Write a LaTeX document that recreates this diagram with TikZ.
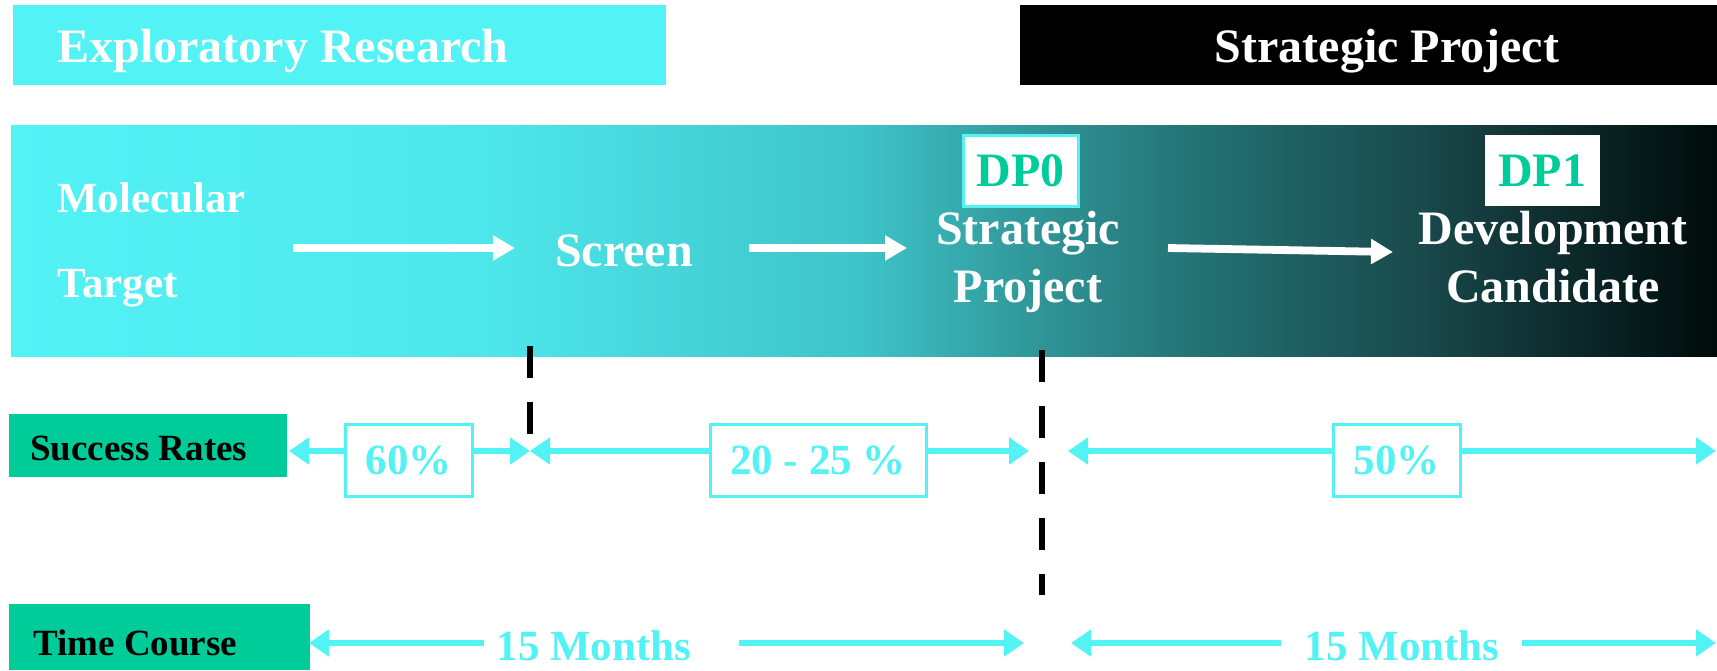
\documentclass[tikz,border=0pt]{standalone}
\usepackage{fontspec}
\setmainfont{Liberation Serif}
\usetikzlibrary{arrows.meta}

\definecolor{aqua}{RGB}{82,242,245}
\definecolor{jade}{RGB}{0,204,153}
\definecolor{fadeA}{RGB}{78,232,236}
\definecolor{fadeB}{RGB}{62,195,200}
\definecolor{fadeC}{RGB}{48,150,152}
\definecolor{fadeD}{RGB}{35,112,114}
\definecolor{fadeE}{RGB}{25,72,74}
\definecolor{fadeF}{RGB}{0,10,10}

\pgfdeclarehorizontalshading{bandfade}{100bp}{color(0bp)=(aqua); color(25bp)=(aqua);
  color(38.5bp)=(fadeA); color(50bp)=(fadeB); color(55bp)=(fadeC); color(60bp)=(fadeD);
  color(66.5bp)=(fadeE); color(75bp)=(fadeF); color(100bp)=(fadeF)}

\tikzset{
  big/.style={font=\bfseries\fontsize{24}{28}\selectfont, inner sep=0pt},
  mid/.style={font=\bfseries\fontsize{21.5}{26}\selectfont, inner sep=0pt},
  small/.style={font=\bfseries\fontsize{18.5}{22}\selectfont, inner sep=0pt},
  whitetip/.tip={Triangle[length=11pt,width=12pt]},
  cyantip/.tip={Triangle[length=10pt,width=13pt]},
  flow/.style={white, line width=3.9pt, -whitetip},
  span/.style={aqua, line width=3.3pt, cyantip-cyantip},
  gate/.style={big, text=jade, fill=white, minimum width=57.5pt, minimum height=35.5pt, line width=1.5pt},
  rate/.style={mid, text=aqua, fill=white, draw=aqua, line width=1.5pt, minimum height=36pt},
  sep/.style={black, line width=2.75pt, dash pattern=on 16pt off 12pt}
}

\begin{document}
\begin{tikzpicture}[x=0.5pt, y=-0.5pt]
  \useasboundingbox (0,0) rectangle (1717,670);

  % phase headers
  \fill[aqua] (13,5) rectangle (666,85);
  \fill[black] (1020,5) rectangle (1717,85);
  \path (57,62) node[name=explo, big, white, anchor=base west] {Exploratory Research};
  \path (1387,62) node[name=strat, big, white, anchor=base] {Strategic Project};

  % stage band
  \shade[shading=bandfade] (11,125) rectangle (1717,356);
  \path (57,212) node[name=mol, mid, white, anchor=base west] {Molecular};
  \path (57,297) node[name=tgt, mid, white, anchor=base west] {Target};
  \path (624,266) node[name=screen, big, white, anchor=base] {Screen};
  \path (1028,244) node[name=sp1, big, white, anchor=base] {Strategic};
  \path (1028,302) node[name=sp2, big, white, anchor=base] {Project};
  \path (1553,244) node[name=dc1, big, white, anchor=base] {Development};
  \path (1553,302) node[name=dc2, big, white, anchor=base] {Candidate};
  \path (1020.5,170.5) node[name=dp0, gate, draw=aqua] {DP0};
  \path (1542,170.5) node[name=dp1, gate] {DP1};

  \coordinate (f1) at (293,248);  \coordinate (f2) at (515,248);
  \coordinate (f3) at (749,248);  \coordinate (f4) at (907,248);
  \coordinate (f5) at (1168,248); \coordinate (f6) at (1393,252);
  \draw[flow] (f1) -- (f2);
  \draw[flow] (f3) -- (f4);
  \draw[flow] (f5) -- (f6);

  % decision points
  \draw[sep] (530,346) -- (530,434);
  \draw[sep] (1042,350) -- (1042,595);

  % success rates
  \fill[jade] (9,414) rectangle (287,477);
  \path (30,460) node[name=rates, small, anchor=base west] {Success Rates};
  \coordinate (s1) at (289,451);  \coordinate (s2) at (530,451);
  \coordinate (s3) at (1029,451); \coordinate (s4) at (1068,451);
  \coordinate (s5) at (1716,451);
  \draw[span] (s1) -- (s2);
  \draw[span] (s2) -- (s3);
  \draw[span] (s4) -- (s5);
  \path (408.5,460) node[name=r1, rate, minimum width=63.5pt] {60\%};
  \path (818,460) node[name=r2, rate, minimum width=108pt] {20 - 25 \%};
  \path (1396.5,460) node[name=r3, rate, minimum width=63.5pt] {50\%};

  % time course
  \fill[jade] (9,604) rectangle (310,670);
  \path (33,655) node[name=time, small, anchor=base west] {Time Course};
  \path (594,660) node[name=m1, mid, text=aqua, anchor=base] {15 Months};
  \path (1402,660) node[name=m2, mid, text=aqua, anchor=base] {15 Months};
  \coordinate (t1) at (309,643);  \coordinate (t2) at (484,643);
  \coordinate (t3) at (739,643);  \coordinate (t4) at (1024,643);
  \coordinate (t5) at (1071,643); \coordinate (t6) at (1281,643);
  \coordinate (t7) at (1522,643); \coordinate (t8) at (1716,643);
  \draw[span, cyantip-] (t1) -- (t2);
  \draw[span, -cyantip] (t3) -- (t4);
  \draw[span, cyantip-] (t5) -- (t6);
  \draw[span, -cyantip] (t7) -- (t8);
\end{tikzpicture}
\end{document}
